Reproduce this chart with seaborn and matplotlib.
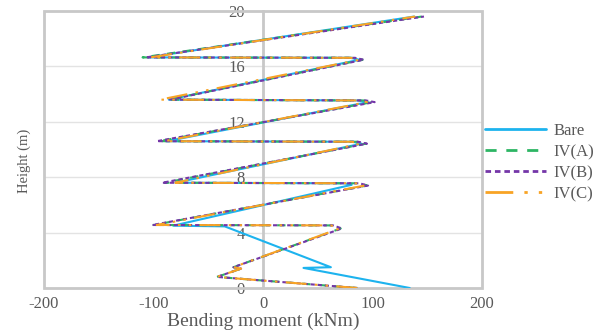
import matplotlib
matplotlib.use("Agg")
import matplotlib.pyplot as plt
import seaborn as sns
import pandas as pd
from matplotlib.patches import Rectangle

# Bending moment profiles along the height
iv_height = [0.0, 0.8, 1.4, 1.5, 4.3, 4.52, 4.55, 7.4, 7.56, 7.6, 10.42, 10.56, 10.6,
             13.42, 13.54, 13.6, 16.48, 16.62, 16.65, 19.6]
iva_moment = [86, -42, -20, -27, 71, 63, -100, 95, 87, -90, 94, 86, -95,
              100, 92, -86, 91, 83, -110, 145]
ivb_moment = [86, -42, -20, -27, 72, 64, -101, 96, 88, -92, 95, 87, -97,
              102, 94, -85, 92, 84, -107, 147]
ivc_moment = [86, -42, -20, -27, 70, 62, -97, 93, 85, -80, 89, 81, -90,
              95, 87, -94, 88, 80, -103, 139]

bare_height = [0.0, 1.45, 1.5, 4.45, 4.5, 7.45, 7.56, 7.6, 10.42, 10.56, 10.6,
               13.42, 13.54, 13.6, 16.48, 16.62, 16.65, 19.6]
bare_moment = [134, 37, 62, -35, -82, 81, 74, -80, 90, 82, -88,
               96, 88, -86, 88, 80, -105, 138]

series_names = ["Bare", "IV(A)", "IV(B)", "IV(C)"]
x_ticks = [-200, -100, 0, 100, 200]
y_ticks = [0, 4, 8, 12, 16, 20]

frames = []
for name, h, m in [("Bare", bare_height, bare_moment),
                   ("IV(A)", iv_height, iva_moment),
                   ("IV(B)", iv_height, ivb_moment),
                   ("IV(C)", iv_height, ivc_moment)]:
    frames.append(pd.DataFrame({"moment": m, "height": h, "case": name}))
df = pd.concat(frames, ignore_index=True)

sns.set_theme(style="white")
plt.rcParams["font.family"] = ["Liberation Serif", "DejaVu Serif"]

palette = {"Bare": "#1DB3EE", "IV(A)": "#2DB564", "IV(B)": "#7436A8", "IV(C)": "#F8A325"}
dashes = {"Bare": "", "IV(A)": (4, 3.5), "IV(B)": (2, 1.4), "IV(C)": (10, 4, 1.2, 4, 1.2, 4)}

fig = plt.figure(figsize=(6.13, 3.31), dpi=100)
ax = fig.add_axes([44 / 613, 1 - 288 / 331, (482 - 44) / 613, (288 - 11) / 331])

sns.lineplot(data=df, x="moment", y="height", hue="case", style="case",
             hue_order=series_names, style_order=series_names,
             palette=palette, dashes=dashes, sort=False, estimator=None,
             units="case", linewidth=1.5, ax=ax)

handles, labels = ax.get_legend_handles_labels()
ax.get_legend().remove()

ax.set_xlim(-200, 200)
ax.set_ylim(0, 20)

grey_text = "#595959"
frame_col = "#C8C8C8"

# horizontal gridlines
for yv in y_ticks[1:-1]:
    ax.axhline(yv, color="#E3E3E3", lw=1.0, zorder=0)

# vertical axis sits at zero moment
ax.spines["left"].set_position(("data", 0))
ax.spines["left"].set_color(frame_col)
ax.spines["left"].set_linewidth(2.0)
ax.spines["left"].set_zorder(0.5)
for s in ["top", "right", "bottom"]:
    ax.spines[s].set_visible(False)
ax.add_patch(Rectangle((0, 0), 1, 1, transform=ax.transAxes, fill=False,
                       edgecolor=frame_col, lw=2.0, zorder=0.6, clip_on=False))

ax.set_xticks(x_ticks)
ax.set_xticklabels([str(v) for v in x_ticks])
ax.set_yticks(y_ticks)
ax.set_yticklabels([str(v) for v in y_ticks])
ax.tick_params(axis="x", length=0, pad=6, labelsize=12, labelcolor=grey_text)
ax.tick_params(axis="y", length=0, pad=13, labelsize=12, labelcolor=grey_text)

ax.set_xlabel("")
ax.set_ylabel("")
fig.text(263 / 613, 1 - 321 / 331, "Bending moment (kNm)", ha="center",
         va="center", fontsize=14, color=grey_text)
fig.text(24 / 613, 1 - 161 / 331, "Height (m)", rotation=90, ha="center",
         va="center", fontsize=10.5, color=grey_text)

leg = fig.legend(handles, labels, loc="center left",
                 bbox_to_anchor=(485 / 613, 1 - 162.5 / 331),
                 frameon=False, fontsize=12, handlelength=3.65,
                 handletextpad=0.45, labelspacing=0.3, borderpad=0,
                 borderaxespad=0)
for t in leg.get_texts():
    t.set_color(grey_text)
for line in leg.get_lines():
    line.set_linewidth(2.0)

fig.savefig("out.png", dpi=100)
